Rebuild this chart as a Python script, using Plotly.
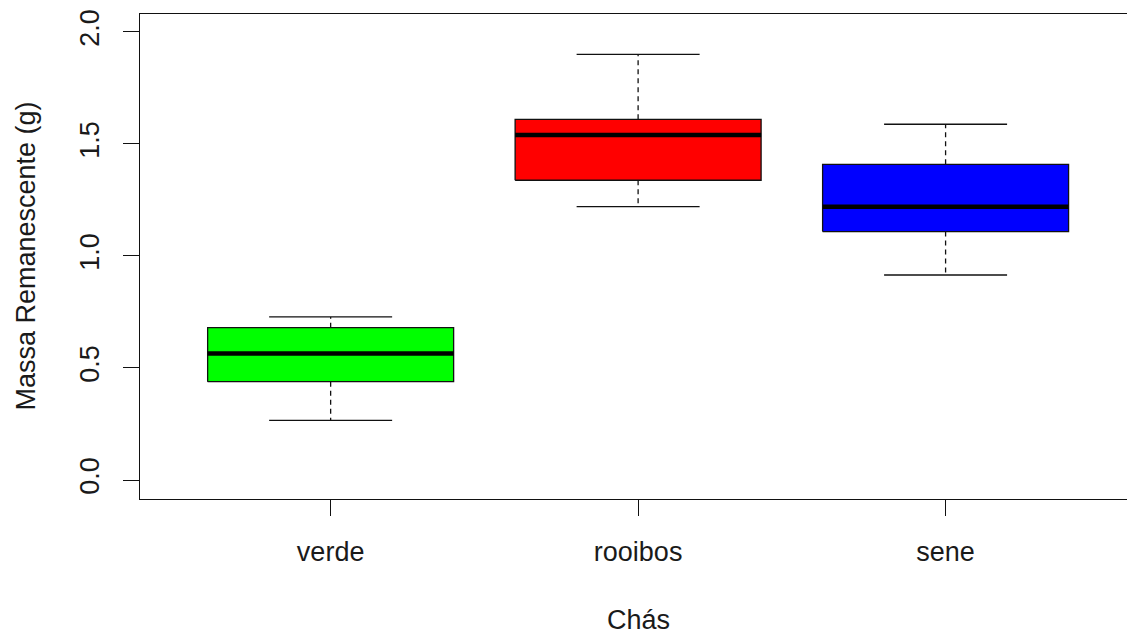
import plotly.graph_objects as go

categories = ["verde", "rooibos", "sene"]
lower_whisker = [0.266, 1.220, 0.915]
q1 = [0.439, 1.338, 1.109]
median = [0.565, 1.540, 1.220]
q3 = [0.680, 1.610, 1.409]
upper_whisker = [0.728, 1.900, 1.588]
fill_colors = ["#00FF00", "#FF0000", "#0000FF"]

y_ticks = [0.0, 0.5, 1.0, 1.5, 2.0]
y_tick_labels = ["0.0", "0.5", "1.0", "1.5", "2.0"]

BOX_HW = 0.4
CAP_HW = 0.2
LINE = "#111111"
FONT = "Liberation Sans, Arial, sans-serif"
FS = 27

fig = go.Figure()
for i, cat in enumerate(categories):
    xc = i + 1
    # dashed whiskers
    fig.add_trace(go.Scatter(
        x=[xc, xc, None, xc, xc],
        y=[q3[i], upper_whisker[i], None, q1[i], lower_whisker[i]],
        mode="lines", line=dict(color=LINE, width=1.3, dash="5px,4px"),
        hoverinfo="skip", showlegend=False))
    # caps
    fig.add_trace(go.Scatter(
        x=[xc - CAP_HW, xc + CAP_HW, None, xc - CAP_HW, xc + CAP_HW],
        y=[upper_whisker[i], upper_whisker[i], None, lower_whisker[i], lower_whisker[i]],
        mode="lines", line=dict(color=LINE, width=1.3),
        hoverinfo="skip", showlegend=False))
    # box
    fig.add_trace(go.Scatter(
        x=[xc - BOX_HW, xc + BOX_HW, xc + BOX_HW, xc - BOX_HW, xc - BOX_HW],
        y=[q1[i], q1[i], q3[i], q3[i], q1[i]],
        mode="lines", fill="toself", fillcolor=fill_colors[i],
        line=dict(color=LINE, width=1.3), name=cat, showlegend=False))
    # median
    fig.add_trace(go.Scatter(
        x=[xc - BOX_HW, xc + BOX_HW],
        y=[median[i], median[i]],
        mode="lines", line=dict(color="#000000", width=4.5),
        hoverinfo="skip", showlegend=False))

fig.update_layout(
    width=1127, height=632, autosize=False,
    margin=dict(l=140, r=0, t=14, b=133),
    paper_bgcolor="white", plot_bgcolor="white",
    font=dict(family=FONT, size=FS, color="#1a1a1a"),
    xaxis=dict(
        range=[0.38, 3.59], tickmode="array", tickvals=[1, 2, 3], ticktext=categories,
        ticks="outside", ticklen=16, tickwidth=1.3, tickcolor=LINE,
        showline=True, linecolor=LINE, linewidth=1.3, mirror=True,
        showgrid=False, zeroline=False, ticklabelstandoff=12,
        tickfont=dict(family=FONT, size=FS, color="#1a1a1a")),
    yaxis=dict(
        range=[-0.0848, 2.08], tickmode="array", tickvals=y_ticks, ticktext=y_tick_labels,
        tickangle=-90, ticks="outside", ticklen=16, tickwidth=1.3, tickcolor=LINE,
        showline=True, linecolor=LINE, linewidth=1.3, mirror=False,
        showgrid=False, zeroline=False, ticklabelstandoff=13,
        tickfont=dict(family=FONT, size=FS, color="#1a1a1a")),
    annotations=[
        dict(text="Chás", xref="x", yref="paper", x=2, y=-0.25,
             xanchor="center", yanchor="middle", showarrow=False,
             font=dict(family=FONT, size=FS, color="#1a1a1a")),
        dict(text="Massa Remanescente (g)", xref="paper", yref="paper",
             x=-0.1165, y=0.5, xanchor="center", yanchor="middle", textangle=-90,
             showarrow=False, font=dict(family=FONT, size=FS, color="#1a1a1a")),
    ],
)

fig.write_html(
    "out.html",
    config={"displayModeBar": False},
    post_script="document.body.style.margin='0';document.body.style.overflow='hidden';",
)
